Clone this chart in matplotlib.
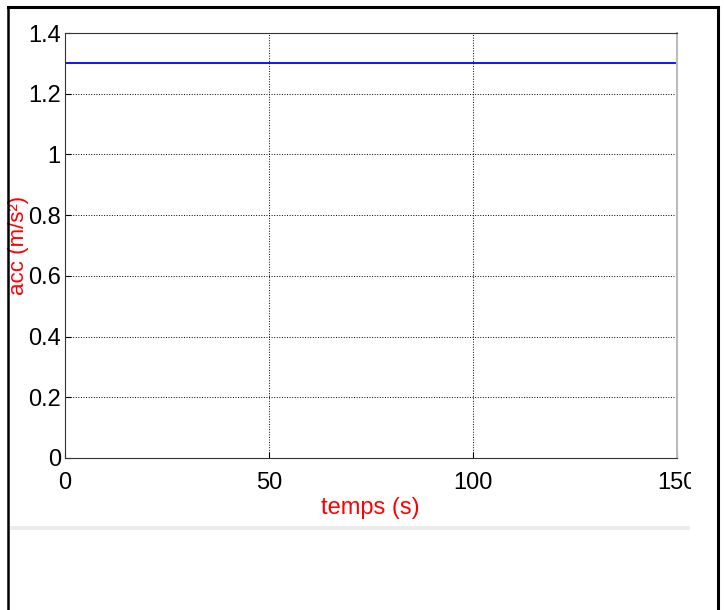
import matplotlib
matplotlib.use("Agg")
import matplotlib.pyplot as plt
from matplotlib.lines import Line2D
from matplotlib.patches import Rectangle
from matplotlib.transforms import Bbox, TransformedBbox

# data: acceleration step, constant after t=0
t = [0, 0, 150]
acc = [0, 1.3, 1.3]
xticks = [0, 50, 100, 150]
yticks = [0, 0.2, 0.4, 0.6, 0.8, 1, 1.2, 1.4]
ytick_labels = ["0", "0.2", "0.4", "0.6", "0.8", "1", "1.2", "1.4"]

plt.rcParams['font.family'] = ['Liberation Sans', 'DejaVu Sans']

W, H = 724, 610
fig = plt.figure(figsize=(W / 100, H / 100), dpi=100)
ax = fig.add_axes([65 / W, 1 - 458 / H, (677 - 65) / W, (458 - 33) / H])

ax.plot(t, acc, color="#0000ff", lw=1.3)
ax.set_xlim(0, 150)
ax.set_ylim(0, 1.4)
ax.set_xticks(xticks)
ax.set_yticks(yticks)
ax.set_yticklabels(ytick_labels)
ax.grid(True, color="black", linestyle=":", lw=0.7)
ax.tick_params(direction="in", labelsize=17, length=4)
ax.tick_params(axis="x", pad=10)
ax.tick_params(axis="y", pad=3)
for s in ["left", "bottom", "top"]:
    ax.spines[s].set_color("#333333")
ax.spines["right"].set_color("#bbbbbb")
ax.spines["right"].set_linewidth(1.5)

ax.set_xlabel("temps (s)", color="red", fontsize=17)
ax.set_ylabel("acc (m/s²)", color="red", fontsize=16)
ax.xaxis.set_label_coords((370 - 65) / (677 - 65), -(497 - 458) / (458 - 33))
ax.yaxis.set_label_coords(-(65 - 29) / (677 - 65), 0.5)

# clip the last tick label like the source screenshot
clip = TransformedBbox(Bbox([[0, 0], [691 / W, 1]]), fig.transFigure)
for lab in ax.get_xticklabels():
    lab.set_clip_box(clip)
    lab.set_clip_on(True)

# outer frame of the screenshot
fig.add_artist(Line2D([8 / W, 718 / W], [1 - 7 / H, 1 - 7 / H], color="black", lw=2.2))
fig.add_artist(Line2D([8 / W, 8 / W], [0, 1 - 7 / H], color="black", lw=1.8))
fig.add_artist(Line2D([718 / W, 718 / W], [0, 1 - 7 / H], color="black", lw=2.2))
fig.add_artist(Rectangle((10 / W, 1 - 530 / H), 680 / W, 4 / H, color="#ececec", lw=0))

fig.savefig("out.png", dpi=100)
